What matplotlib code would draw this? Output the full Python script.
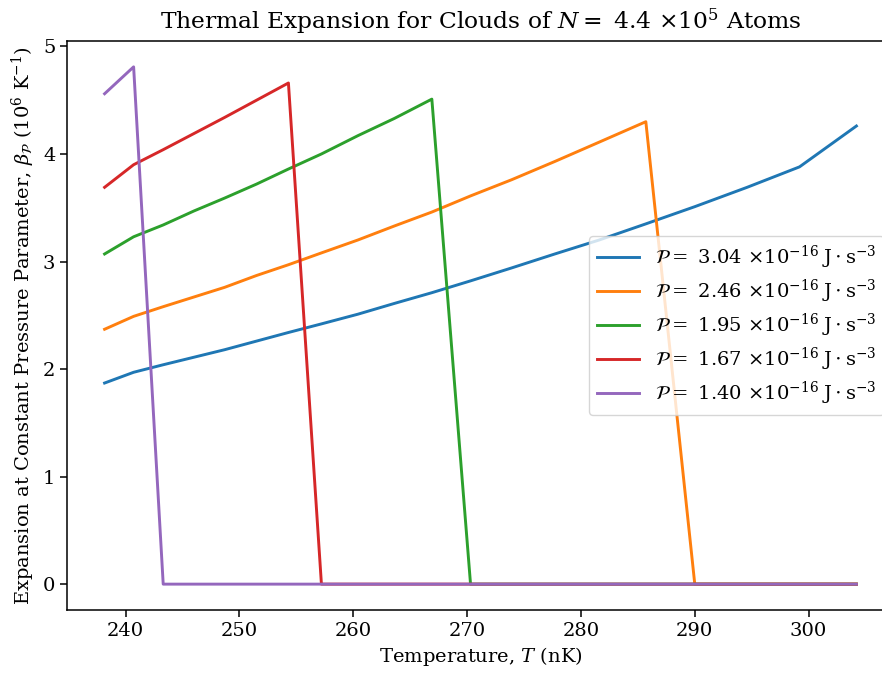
import numpy as np
import matplotlib
matplotlib.use("Agg")
import matplotlib.pyplot as plt

plt.rcParams["font.family"] = "DejaVu Serif"
plt.rcParams["mathtext.fontset"] = "dejavuserif"

# ── Data ──────────────────────────────────────────────────────────────────────
T = [238.15, 240.7, 243.3, 246.0, 248.7, 251.5, 254.3, 257.2, 260.4, 263.6,
     266.9, 270.3, 273.9, 277.7, 281.6, 285.7, 290.0, 294.6, 299.2, 304.2]

P_labels = ["3.04", "2.46", "1.95", "1.67", "1.40"]

beta_304 = [1.87, 1.97, 2.04, 2.11, 2.18, 2.26, 2.34, 2.42, 2.51, 2.61,
            2.71, 2.82, 2.94, 3.07, 3.20, 3.35, 3.51, 3.69, 3.88, 4.26]
beta_246 = [2.37, 2.49, 2.58, 2.67, 2.76, 2.87, 2.97, 3.08, 3.20, 3.33,
            3.46, 3.61, 3.76, 3.93, 4.11, 4.30, 0.0, 0.0, 0.0, 0.0]
beta_195 = [3.07, 3.23, 3.34, 3.47, 3.59, 3.72, 3.86, 4.00, 4.17, 4.33,
            4.51, 0.0, 0.0, 0.0, 0.0, 0.0, 0.0, 0.0, 0.0, 0.0]
beta_167 = [3.69, 3.90, 4.04, 4.19, 4.34, 4.50, 4.66, 0.0, 0.0, 0.0,
            0.0, 0.0, 0.0, 0.0, 0.0, 0.0, 0.0, 0.0, 0.0, 0.0]
beta_140 = [4.56, 4.81, 0.0, 0.0, 0.0, 0.0, 0.0, 0.0, 0.0, 0.0,
            0.0, 0.0, 0.0, 0.0, 0.0, 0.0, 0.0, 0.0, 0.0, 0.0]

series = [beta_304, beta_246, beta_195, beta_167, beta_140]

# ── Plot ──────────────────────────────────────────────────────────────────────
fig = plt.figure(figsize=(8.82, 6.73), dpi=100)
W, H = 882, 673
ax = fig.add_axes([67 / W, (H - 610) / H, (894 - 67) / W, (610 - 41) / H])

for vals, lab in zip(series, P_labels):
    ax.plot(T, vals, lw=2.1,
            label=r"$\mathcal{P} =$ " + lab + r" $\times 10^{-16}\;\mathrm{J \cdot s^{-3}}$")

ax.set_xlabel(r"Temperature, $T$ (nK)", fontsize=14)
ax.set_ylabel(r"Expansion at Constant Pressure Parameter, $\beta_\mathcal{P}$ ($10^6$ K$^{-1}$)",
              fontsize=14)
ax.tick_params(labelsize=14, length=4.9, width=1.1)
for spine in ax.spines.values():
    spine.set_linewidth(1.1)

ax.legend(loc="center right", fontsize=14, labelspacing=0.35, handlelength=2.2)

ax.set_title(r"Thermal Expansion for Clouds of $N =$ 4.4 $\times 10^5$ Atoms",
             fontsize=16.8, pad=8.4)

fig.savefig("out.png", dpi=100)
